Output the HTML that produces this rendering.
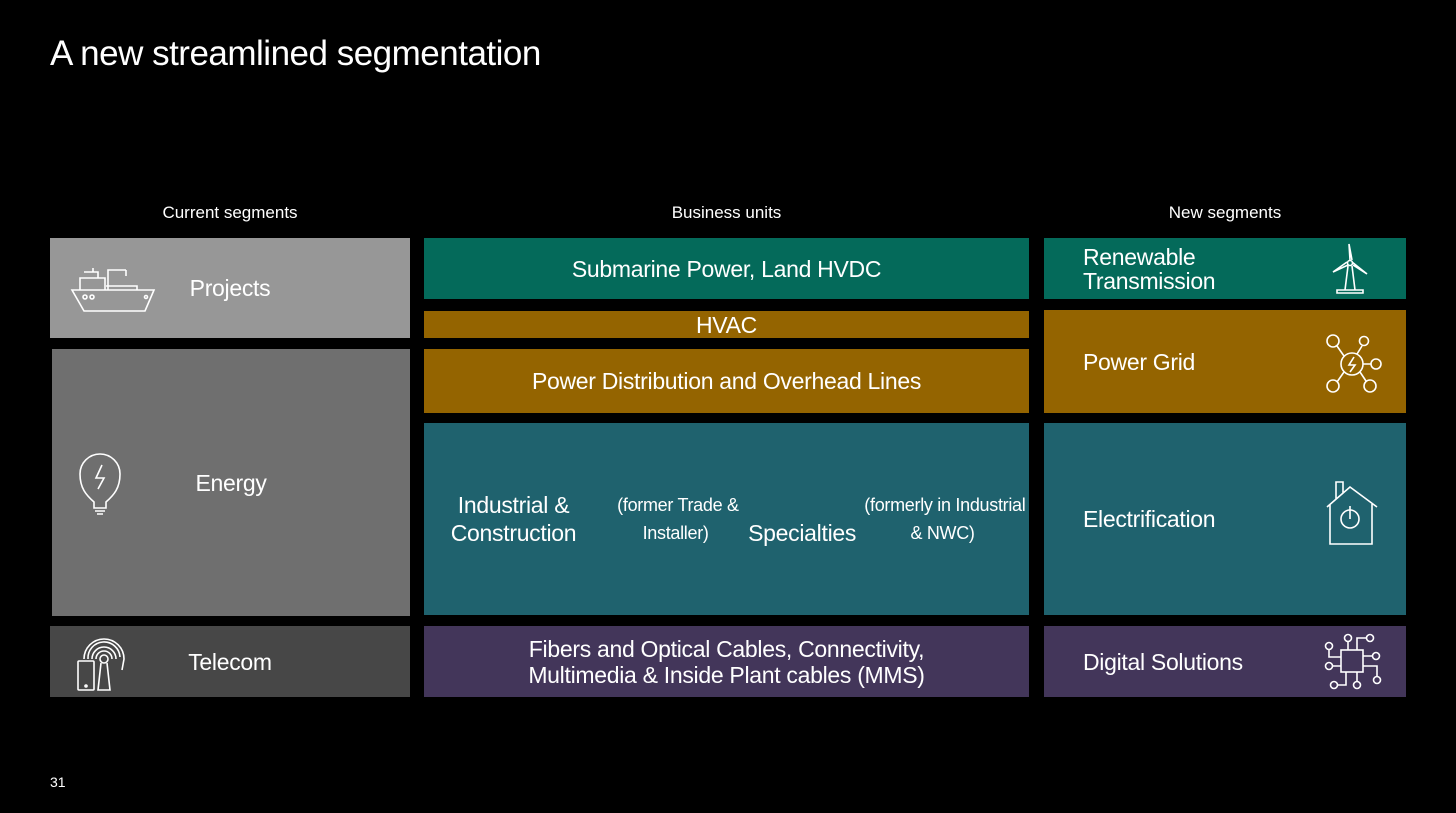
<!DOCTYPE html>
<html><head><style>
body{margin:0;width:1456px;height:813px;background:#000;font-family:"Liberation Sans",sans-serif;color:#fff;position:relative;overflow:hidden}
.a{position:absolute}
.b{position:absolute;display:flex;align-items:center;justify-content:center;text-align:center;font-size:23px;line-height:26px;letter-spacing:-0.3px}
.h{position:absolute;font-size:17px;text-align:center;top:203px}
.r{justify-content:flex-start;padding-left:39px;box-sizing:border-box;text-align:left}
small{font-size:18px}
svg{position:absolute}
</style></head><body>
<div class="a" style="left:50px;top:34px;font-size:35px;letter-spacing:-0.5px">A new streamlined segmentation</div>
<div class="h" style="left:50px;width:360px">Current segments</div>
<div class="h" style="left:424px;width:605px">Business units</div>
<div class="h" style="left:1044px;width:362px">New segments</div>

<div class="b" style="left:50px;top:238px;width:360px;height:100px;background:#979797">Projects</div>
<div class="b" style="left:52px;top:349px;width:358px;height:267px;background:#6f6f6f">Energy</div>
<div class="b" style="left:50px;top:626px;width:360px;height:71px;background:#474747">Telecom</div>

<div class="b" style="left:424px;top:238px;width:605px;height:61px;background:#046a5a">Submarine Power, Land HVDC</div>
<div class="b" style="left:424px;top:311px;width:605px;height:27px;background:#946400">HVAC</div>
<div class="b" style="left:424px;top:349px;width:605px;height:64px;background:#946400">Power Distribution and Overhead Lines</div>
<div class="b" style="left:424px;top:423px;width:605px;height:192px;background:#1f626e;line-height:28px">Industrial &amp; Construction <small>&nbsp;(former Trade &amp; Installer)</small><br>Specialties <small>&nbsp;(formerly in Industrial &amp; NWC)</small></div>
<div class="b" style="left:424px;top:626px;width:605px;height:71px;background:#43365a">Fibers and Optical Cables, Connectivity,<br>Multimedia &amp; Inside Plant cables (MMS)</div>

<div class="b r" style="left:1044px;top:238px;width:362px;height:61px;background:#046a5a;line-height:24px">Renewable<br>Transmission</div>
<div class="b r" style="left:1044px;top:310px;width:362px;height:103px;background:#946400">Power Grid</div>
<div class="b r" style="left:1044px;top:423px;width:362px;height:192px;background:#1f626e">Electrification</div>
<div class="b r" style="left:1044px;top:626px;width:362px;height:71px;background:#43365a">Digital Solutions</div>

<svg width="1456" height="813" style="left:0;top:0" fill="none" stroke="#fff" stroke-width="1.6">
<!-- ship -->
<path d="M72 290 H154 L145 311 H84 Z M80 290 V278 H105 V290 M84 272 H98 V278 M93 268 V272 M108 290 V270 H126 M126 270 V276 M106 286 H137 V290"/>
<circle cx="85" cy="297" r="2"/><circle cx="92" cy="297" r="2"/><circle cx="146" cy="297" r="1.5"/>
<!-- bulb -->
<path d="M94 502 C86 495 80 488 80 474 A20 20 0 0 1 120 474 C120 488 114 495 106 502 V508 H94 Z M95 511 H105 M97 514 H103"/>
<path d="M102 465 L96 478 H104 L98 489"/>
<!-- telecom -->
<rect x="78" y="661" width="16" height="29" rx="1"/><circle cx="86" cy="686" r="1"/>
<circle cx="104" cy="659" r="4"/><path d="M101 663 L98 690 H110 L107 663"/>
<path d="M96 659 A8 8 0 0 1 112 659 M92 659 A12 12 0 0 1 116 659 M88 659 A16 16 0 0 1 120 657 M84 659 A20 20 0 0 1 124 659 L122 670"/>
<!-- turbine -->
<circle cx="1350" cy="263" r="2.5"/><path d="M1348 266 L1345 290 H1355 L1352 266 M1337 293 H1363 V290 H1337 Z M1350 260 L1349 244 L1352 260 M1348 265 L1333 272 L1347 262 M1353 265 L1367 274 L1352 262"/>
<!-- power grid -->
<circle cx="1352" cy="364" r="11"/><path d="M1354 357 L1349 365 H1355 L1350 372"/>
<circle cx="1333" cy="341" r="6"/><circle cx="1364" cy="341" r="4.5"/><circle cx="1376" cy="364" r="5"/><circle cx="1333" cy="386" r="6"/><circle cx="1370" cy="386" r="6"/>
<path d="M1337 346 L1344 356 M1362 346 L1357 354 M1363 364 H1371 M1337 382 L1344 372 M1366 381 L1360 372"/>
<!-- house -->
<path d="M1327 507 L1350 487 L1377 507 M1330 504 V544 H1372 V504 M1336 499 V482 H1343 V493"/>
<circle cx="1350" cy="519" r="9"/><path d="M1350 506 V519"/>
<!-- chip -->
<rect x="1341" y="650" width="22" height="22"/>
<circle cx="1329" cy="646" r="3.5"/><circle cx="1348" cy="638" r="3.5"/><circle cx="1370" cy="638" r="3.5"/><circle cx="1376" cy="656" r="3.5"/><circle cx="1329" cy="666" r="3.5"/><circle cx="1377" cy="680" r="3.5"/><circle cx="1334" cy="685" r="3.5"/><circle cx="1357" cy="685" r="3.5"/>
<path d="M1329 650 V657 H1341 M1348 642 V650 M1366 638 H1357 V650 M1363 656 H1373 M1333 666 H1341 M1363 666 H1377 V676 M1338 685 H1346 V672 M1357 681 V672"/>
</svg>
<div class="a" style="left:50px;top:774px;font-size:14px">31</div>
</body></html>
